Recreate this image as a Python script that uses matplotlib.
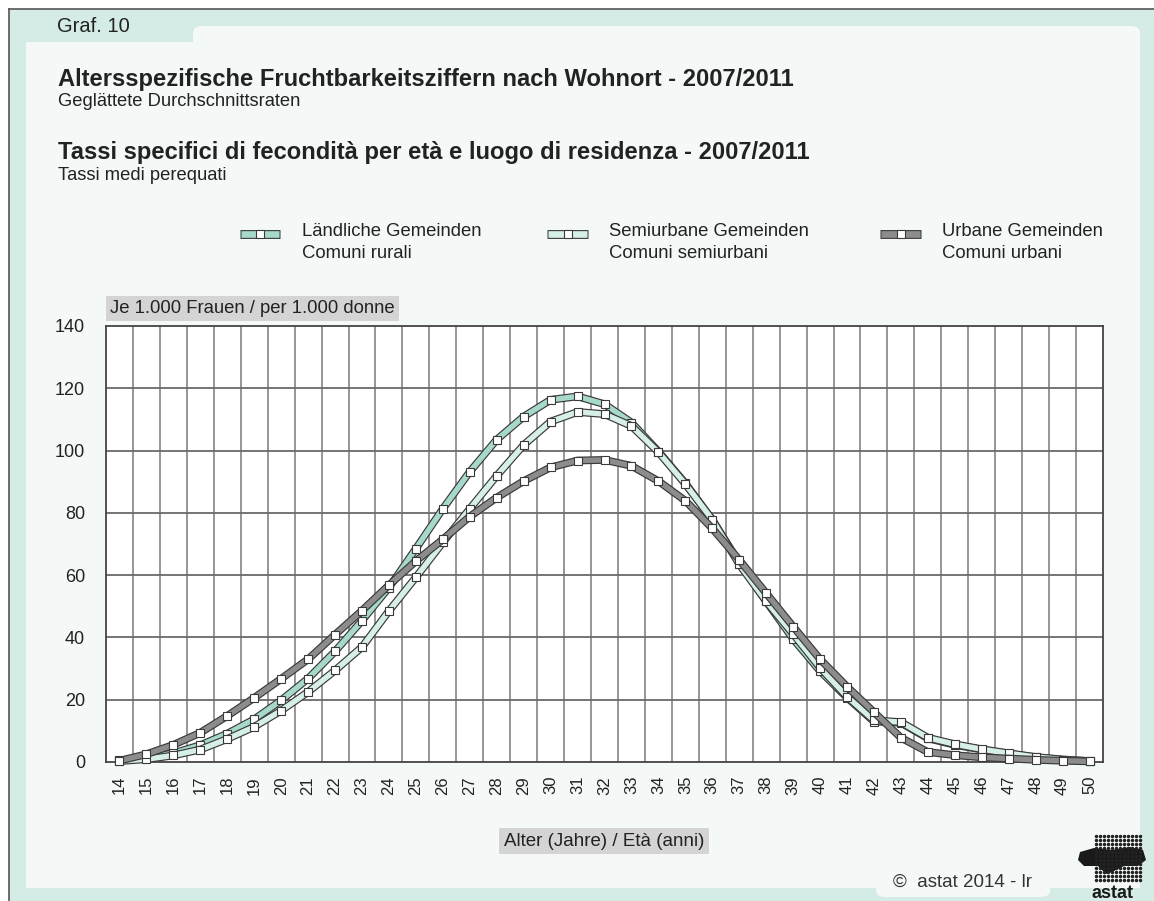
import numpy as np
import matplotlib.pyplot as plt
from matplotlib.patches import Rectangle, FancyBboxPatch
from matplotlib.lines import Line2D

plt.rcParams['font.family'] = ['Liberation Sans', 'DejaVu Sans']

# data: age-specific fertility rates per 1000 women
ages = list(range(14, 51))
rural = [0.5, 1.5, 2.8, 5.4, 9.1, 13.7, 19.8, 26.8, 35.5, 45.4, 56.0, 68.5,
         81.3, 93.2, 103.5, 110.9, 116.3, 117.4, 114.9, 109.0, 99.7, 89.5,
         77.8, 64.0, 51.6, 39.5, 29.2, 20.7, 13.0, 12.6, 7.6, 5.5, 4.0, 2.7,
         1.5, 0.7, 0.3]
semiurban = [0.3, 0.9, 2.1, 4.0, 7.4, 11.3, 16.5, 22.5, 29.4, 36.9, 48.5, 59.3,
             70.5, 81.3, 91.9, 101.8, 109.3, 112.4, 111.7, 107.9, 99.5, 89.3,
             77.8, 63.5, 51.6, 41.1, 30.3, 21.0, 13.4, 12.8, 7.8, 5.7, 4.1, 2.8,
             1.6, 0.8, 0.3]
urban = [0.4, 2.5, 5.5, 9.4, 14.8, 20.6, 26.7, 33.0, 40.9, 48.6, 56.8, 64.5,
         71.5, 78.8, 84.9, 90.2, 94.6, 96.8, 97.0, 95.1, 90.2, 83.9,
         75.0, 64.9, 54.2, 43.5, 33.0, 24.2, 16.0, 7.8, 3.2, 2.2, 1.5, 1.1,
         0.7, 0.4, 0.2]

series_de = ["Ländliche Gemeinden", "Semiurbane Gemeinden", "Urbane Gemeinden"]
series_it = ["Comuni rurali", "Comuni semiurbani", "Comuni urbani"]
colors = ["#a6d8cc", "#d6efe9", "#8c8c8c"]
edge = "#3a3a3a"
mint = "#d5ece6"
inner = "#f4f9f8"
txt = "#222222"

W, H = 1154, 901
fig = plt.figure(figsize=(W / 100, H / 100), dpi=100)
fig.patch.set_facecolor("white")


def fx(x):
    return x / W


def fy(y):
    return 1 - y / H


# frame background
fig.add_artist(Rectangle((fx(9), 0), 1 - fx(9), fy(9), transform=fig.transFigure,
                         facecolor=mint, edgecolor="none", zorder=-3))
fig.add_artist(Line2D([fx(9), fx(9)], [0, fy(9)], transform=fig.transFigure,
                      color="#555555", lw=1.2, zorder=-2))
fig.add_artist(Line2D([fx(9), 1], [fy(9), fy(9)], transform=fig.transFigure,
                      color="#555555", lw=1.2, zorder=-2))
fig.add_artist(Rectangle((fx(26), fy(888)), fx(1140) - fx(26), fy(42) - fy(888),
                         transform=fig.transFigure, facecolor=inner,
                         edgecolor="none", zorder=-2))
fig.add_artist(FancyBboxPatch((fx(193), fy(60)), fx(1140) - fx(193), fy(26) - fy(60),
                              boxstyle="round,pad=0,rounding_size=0.008",
                              transform=fig.transFigure, facecolor=inner,
                              edgecolor="none", zorder=-2))
fig.add_artist(FancyBboxPatch((fx(876), fy(897)), fx(1050) - fx(876), fy(870) - fy(897),
                              boxstyle="round,pad=0,rounding_size=0.008",
                              transform=fig.transFigure, facecolor=inner,
                              edgecolor="none", zorder=-2))

# header texts
fig.text(fx(57), fy(27), "Graf. 10", fontsize=14.5, va="center", color=txt)
fig.text(fx(58), fy(86), "Altersspezifische Fruchtbarkeitsziffern nach Wohnort - 2007/2011",
         fontsize=17.1, fontweight="bold", color=txt)
fig.text(fx(58), fy(106), "Geglättete Durchschnittsraten", fontsize=13.2, color=txt)
fig.text(fx(58), fy(159), "Tassi specifici di fecondità per età e luogo di residenza - 2007/2011",
         fontsize=17.1, fontweight="bold", color=txt)
fig.text(fx(58), fy(180), "Tassi medi perequati", fontsize=13.2, color=txt)

# legend, drawn by hand
leg_x = [(240, 280, 302), (547, 588, 609), (880, 921, 942)]
for (x0, x1, xt), c, de, it in zip(leg_x, colors, series_de, series_it):
    fig.add_artist(Line2D([fx(x0), fx(x1)], [fy(234), fy(234)], transform=fig.transFigure,
                          color=edge, lw=6.4, solid_capstyle="butt"))
    fig.add_artist(Line2D([fx(x0 + 1), fx(x1 - 1)], [fy(234), fy(234)], transform=fig.transFigure,
                          color=c, lw=4.8, solid_capstyle="butt"))
    fig.add_artist(Line2D([fx((x0 + x1) / 2)], [fy(234)], transform=fig.transFigure,
                          marker="s", ms=5.5, mfc="white", mec=edge, mew=0.8, lw=0))
    fig.text(fx(xt), fy(232), de, fontsize=13.3, va="center", color=txt)
    fig.text(fx(xt), fy(253), it, fontsize=13.3, va="center", color=txt)

# plot
ax = fig.add_axes([fx(106), fy(762), fx(1103) - fx(106), fy(326) - fy(762)])
ax.set_zorder(2)
ax.set_facecolor("white")
ax.set_xlim(13.5, 50.5)
ax.set_ylim(0, 140)
ax.set_xticks(ages)
ax.set_xticklabels([str(a) for a in ages], rotation=90)
ax.set_yticks(range(0, 141, 20))
ax.tick_params(axis="y", length=0, pad=15, labelsize=13, labelcolor=txt)
ax.tick_params(axis="x", length=0, pad=10, labelsize=12, labelcolor=txt)
for v in np.arange(14.5, 50, 1):
    ax.axvline(v, color="#8e8e8e", lw=1.3, zorder=1)
for v in range(20, 140, 20):
    ax.axhline(v, color="#6a6a6a", lw=1.3, zorder=1)
for s in ax.spines.values():
    s.set_color("#444444")
    s.set_linewidth(1.3)

for i, (vals, c) in enumerate(zip([rural, semiurban, urban], colors)):
    z = 3 + i * 3
    ax.plot(ages, vals, color=edge, lw=5.6, zorder=z, solid_joinstyle="miter",
            clip_on=False)
    ax.plot(ages, vals, color=c, lw=3.9, zorder=z + 1, solid_joinstyle="miter",
            clip_on=False)
    ax.plot(ages, vals, ls="none", marker="s", ms=5.3, mfc="white", mec=edge,
            mew=0.8, zorder=z + 2, clip_on=False)

# axis label boxes
ax.text(0.004, 1.04, "Je 1.000 Frauen / per 1.000 donne", transform=ax.transAxes,
        fontsize=13.3, va="center", ha="left", color=txt,
        bbox=dict(facecolor="#d4d4d4", edgecolor="none", pad=3))
fig.text(fx(604), fy(841), "Alter (Jahre) / Età (anni)", fontsize=13.5, ha="center",
         va="center", color=txt,
         bbox=dict(facecolor="#d4d4d4", edgecolor="none", pad=3.5))

# footer
fig.text(fx(893), fy(887), "©  astat 2014 - lr", fontsize=13.5, color="#333333")

# logo (rough)
gx, gy = np.meshgrid(np.arange(1096, 1142, 4), np.arange(836, 882, 4))
fig.add_artist(Line2D(fx(gx.ravel()), fy(gy.ravel()), transform=fig.transFigure,
                      ls="none", marker="o", ms=1.5, color="#222222"))
blob_x = [1080, 1094, 1112, 1130, 1143, 1146, 1138, 1124, 1112, 1106, 1098, 1084, 1078]
blob_y = [852, 848, 850, 847, 850, 860, 866, 866, 872, 874, 866, 866, 860]
fig.add_artist(plt.Polygon(list(zip([fx(x) for x in blob_x], [fy(y) for y in blob_y])),
                           transform=fig.transFigure, facecolor="#1a1a1a", edgecolor="none"))
fig.text(fx(1112), fy(894), "astat", fontsize=13, fontweight="bold", ha="center",
         va="center", color="#1a1a1a")

fig.savefig("out.png", dpi=100)
